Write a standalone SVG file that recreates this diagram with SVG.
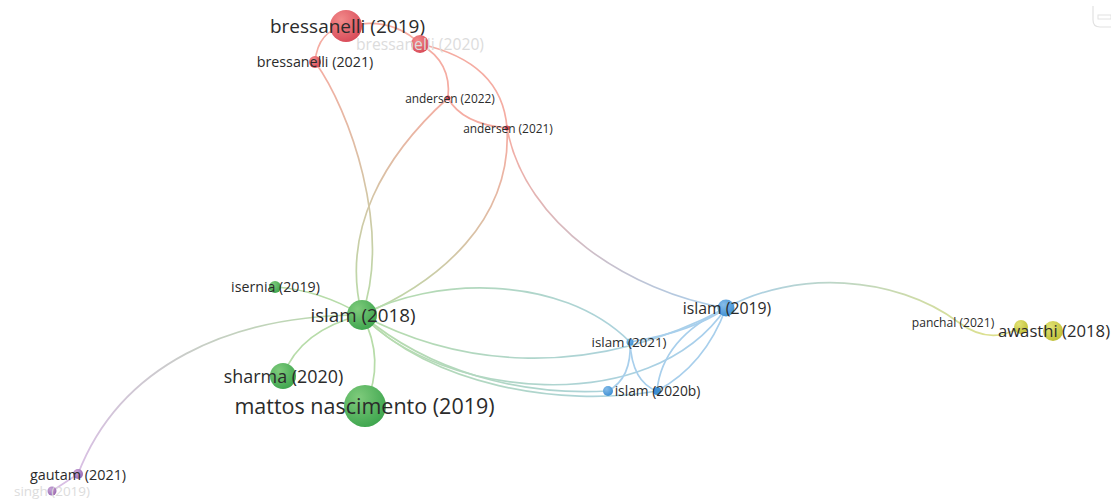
<svg xmlns="http://www.w3.org/2000/svg" width="1111" height="499" viewBox="0 0 1111 499">
<style>
.e{fill:none;stroke-width:1.7;stroke-linecap:round}
.r{stroke:#f5aca2}
.g{stroke:#b7dca9}
.b{stroke:#a8cfec}
text{font-family:"Open Sans","Noto Sans","Liberation Sans",sans-serif;fill:#2b2b2b;text-anchor:middle}
.faint{fill:#dcdcdc}
</style>
<defs>
<radialGradient id="cr" cx="0.35" cy="0.3" r="0.75"><stop offset="0" stop-color="#f28a8a"/><stop offset="1" stop-color="#d84a58"/></radialGradient>
<radialGradient id="cg" cx="0.35" cy="0.3" r="0.75"><stop offset="0" stop-color="#7fcb7c"/><stop offset="1" stop-color="#3ea54e"/></radialGradient>
<radialGradient id="cb" cx="0.35" cy="0.3" r="0.75"><stop offset="0" stop-color="#85bbe8"/><stop offset="1" stop-color="#3d8fd3"/></radialGradient>
<radialGradient id="cy" cx="0.35" cy="0.3" r="0.75"><stop offset="0" stop-color="#e2e274"/><stop offset="1" stop-color="#bfbf38"/></radialGradient>
<radialGradient id="cp" cx="0.35" cy="0.3" r="0.75"><stop offset="0" stop-color="#c7a3d6"/><stop offset="1" stop-color="#9a6bb2"/></radialGradient>
<linearGradient id="g_rg1" gradientUnits="userSpaceOnUse" x1="315" y1="62" x2="362" y2="315"><stop offset="0" stop-color="#f5aca2"/><stop offset="1" stop-color="#b7dca9"/></linearGradient>
<linearGradient id="g_rg2" gradientUnits="userSpaceOnUse" x1="448" y1="98" x2="362" y2="315"><stop offset="0" stop-color="#f5aca2"/><stop offset="1" stop-color="#b7dca9"/></linearGradient>
<linearGradient id="g_rg3" gradientUnits="userSpaceOnUse" x1="507" y1="128" x2="362" y2="315"><stop offset="0" stop-color="#f5aca2"/><stop offset="1" stop-color="#b7dca9"/></linearGradient>
<linearGradient id="g_rb" gradientUnits="userSpaceOnUse" x1="507" y1="128" x2="726" y2="308"><stop offset="0" stop-color="#f5aca2"/><stop offset="1" stop-color="#a8cfec"/></linearGradient>
<linearGradient id="g_gp" gradientUnits="userSpaceOnUse" x1="362" y1="315" x2="78" y2="474"><stop offset="0" stop-color="#b7dca9"/><stop offset="1" stop-color="#d9bfe4"/></linearGradient>
<linearGradient id="g_gb" gradientUnits="userSpaceOnUse" x1="362" y1="315" x2="700" y2="340"><stop offset="0" stop-color="#b7dca9"/><stop offset="1" stop-color="#a8cfec"/></linearGradient>
<linearGradient id="g_by" gradientUnits="userSpaceOnUse" x1="726" y1="308" x2="1021" y2="327"><stop offset="0" stop-color="#a8cfec"/><stop offset="1" stop-color="#e2e284"/></linearGradient>
</defs>

<path d="M1093,6 L1093,20 Q1093,27 1100,27 L1111,27" fill="none" stroke="#e2e2e2" stroke-width="1.2"/>
<rect x="1098" y="15" width="13" height="4" fill="none" stroke="#e2e2e2" stroke-width="1"/>

<g id="connectors">
<path class="e r" d="M346,26 Q318,30 315,62"/>
<path class="e r" d="M346,26 Q392,16 420,44"/>
<path class="e" stroke="url(#g_rg1)" d="M315,62 C350,110 392,230 362,315"/>
<path class="e r" d="M420,44 Q452,62 448,98"/>
<path class="e r" d="M448,98 Q462,124 507,128"/>
<path class="e r" d="M420,44 Q502,62 507,128"/>
<path class="e" stroke="url(#g_rg2)" d="M448,98 C385,155 340,230 362,315"/>
<path class="e" stroke="url(#g_rg3)" d="M507,128 C512,220 440,282 362,315"/>
<path class="e" stroke="url(#g_rb)" d="M507,128 C525,225 630,292 726,308"/>
<path class="e g" d="M362,315 Q320,290 275,287"/>
<path class="e g" d="M362,315 Q300,330 283,376"/>
<path class="e g" d="M362,315 Q386,360 365,406"/>
<path class="e" stroke="url(#g_gp)" d="M362,315 C230,315 120,365 78,474"/>
<path class="e" stroke="#d9bfe4" d="M78,474 L52,491"/>
<path class="e" stroke="url(#g_gb)" d="M362,315 C430,278 560,272 630,342"/>
<path class="e" stroke="url(#g_gb)" d="M362,315 C450,362 580,385 726,308"/>
<path class="e" stroke="url(#g_gb)" d="M362,315 C430,372 520,396 608,391"/>
<path class="e" stroke="url(#g_gb)" d="M362,315 C430,385 560,408 657,391"/>
<path class="e" stroke="url(#g_gb)" d="M362,315 C440,398 650,420 726,308"/>
<path class="e b" d="M630,342 Q692,332 726,308"/>
<path class="e b" d="M630,342 Q632,378 608,391"/>
<path class="e b" d="M630,342 Q632,382 657,391"/>
<path class="e b" d="M657,391 Q662,338 726,308"/>
<path class="e b" d="M657,391 Q705,365 726,308"/>
<path class="e" stroke="url(#g_by)" d="M726,308 C795,270 895,275 958,322 C985,342 1005,336 1021,327"/>
</g>

<g id="n_bressanelli2019"><circle cx="346" cy="26" r="16" fill="url(#cr)"/><text x="347.5" y="33" font-size="19">bressanelli (2019)</text></g>
<g id="n_bressanelli2020"><circle cx="420" cy="44" r="9" fill="url(#cr)"/><text class="faint" x="420" y="49.5" font-size="15.7">bressanelli (2020)</text></g>
<g id="n_bressanelli2021"><circle cx="315" cy="62" r="6" fill="url(#cr)"/><text x="315" y="67" font-size="14.3">bressanelli (2021)</text></g>
<g id="n_andersen2022"><circle cx="448" cy="98" r="2.5" fill="#d84a58"/><text x="450" y="102.5" font-size="11.9">andersen (2022)</text></g>
<g id="n_andersen2021"><circle cx="507" cy="128" r="2.5" fill="#d84a58"/><text x="508" y="132.5" font-size="11.9">andersen (2021)</text></g>
<g id="n_isernia2019"><circle cx="275" cy="287" r="6" fill="url(#cg)"/><text x="275.5" y="292" font-size="14.2">isernia (2019)</text></g>
<g id="n_islam2018"><circle cx="362" cy="315" r="15" fill="url(#cg)"/><text x="363" y="322" font-size="18.8">islam (2018)</text></g>
<g id="n_sharma2020"><circle cx="283" cy="376" r="13" fill="url(#cg)"/><text x="283.5" y="382.5" font-size="17.9">sharma (2020)</text></g>
<g id="n_mattos2019"><circle cx="365" cy="406" r="21" fill="url(#cg)"/><text x="364.5" y="414" font-size="21.5">mattos nascimento (2019)</text></g>
<g id="n_islam2019"><circle cx="726" cy="308" r="8.5" fill="url(#cb)"/><text x="727" y="313.5" font-size="15.8">islam (2019)</text></g>
<g id="n_islam2021"><circle cx="630" cy="342" r="3.5" fill="url(#cb)"/><text x="629" y="346.5" font-size="13.4">islam (2021)</text></g>
<g id="n_islam2020a"><circle cx="608" cy="391" r="5" fill="url(#cb)"/></g>
<g id="n_islam2020b"><circle cx="657" cy="391" r="4" fill="#3d8fd3"/><text x="657.5" y="396" font-size="13.8">islam (2020b)</text></g>
<g id="n_panchal2021"><text x="953" y="327" font-size="12.1">panchal (2021)</text></g>
<g id="n_yellow2"><circle cx="1021" cy="327" r="7" fill="url(#cy)"/></g>
<g id="n_awasthi2018"><circle cx="1053" cy="331" r="10" fill="url(#cy)"/><text x="1054" y="337" font-size="16.7">awasthi (2018)</text></g>
<g id="n_gautam2021"><circle cx="78" cy="474" r="5" fill="url(#cp)"/><text x="78" y="479.5" font-size="14.4">gautam (2021)</text></g>
<g id="n_singh2019"><circle cx="52" cy="491" r="4.5" fill="url(#cp)"/><text class="faint" x="52" y="496" font-size="13.5">singh (2019)</text></g>
</svg>
